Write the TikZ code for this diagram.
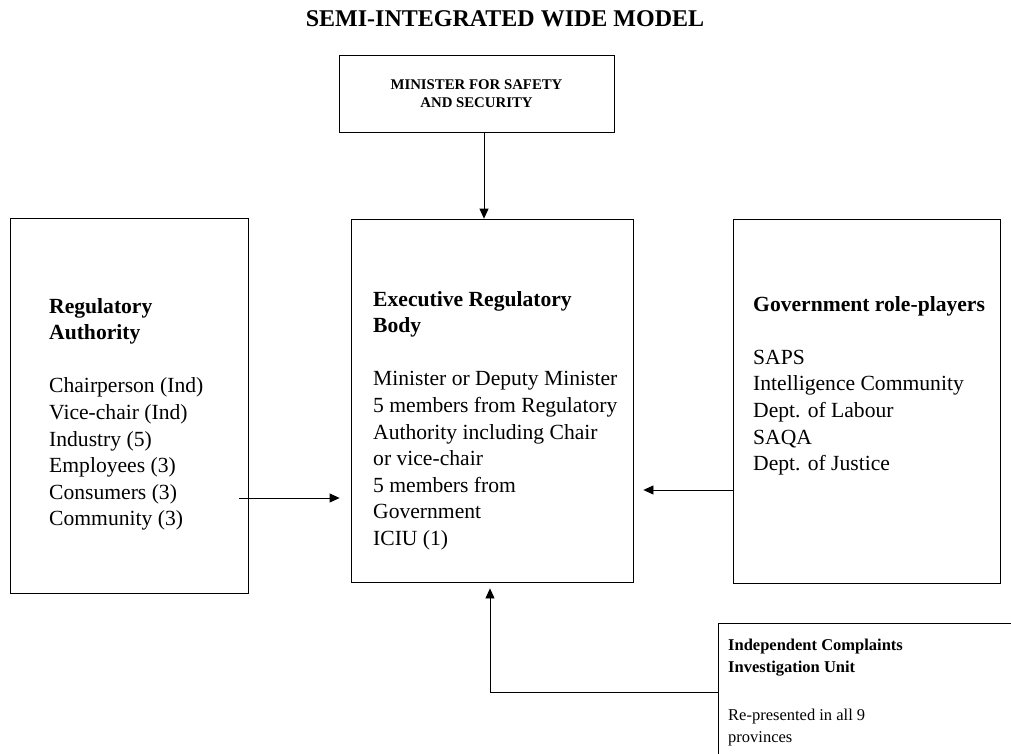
\documentclass[tikz,border=0pt]{standalone}
\usepackage{fontspec}
\setmainfont{Liberation Serif}
\usetikzlibrary{arrows.meta}
\begin{document}
\begin{tikzpicture}[x=1pt,y=-1pt,
  box/.style={draw=black, line width=0.8pt, inner sep=0pt},
  edge/.style={draw=black, line width=0.8pt},
  arr/.style={draw=black, line width=0.8pt, -{Triangle[length=10pt,width=9pt]}},
  body/.style={anchor=north west, align=left, inner sep=0pt, font=\fontsize{21.6}{26.6}\selectfont},
  small/.style={anchor=north west, align=left, inner sep=0pt, font=\fontsize{16.5}{22}\selectfont},
]
\useasboundingbox (0,0) rectangle (1011,754);
\fill[white] (0,0) rectangle (1011,754);

\node[inner sep=0pt, font=\fontsize{24}{28}\selectfont\bfseries] (title) at (505,19) {SEMI-INTEGRATED WIDE MODEL};

\node[box, minimum width=275pt, minimum height=77pt, align=center,
      font=\fontsize{14.8}{18}\selectfont\bfseries] (MIN) at (476.5,93.5)
      {MINISTER FOR SAFETY\\AND SECURITY};

\node[box, minimum width=238pt, minimum height=375pt] (RA) at (129,405.5) {};
\node[box, minimum width=282pt, minimum height=363pt] (ERB) at (492,400.5) {};
\node[box, minimum width=267pt, minimum height=364pt] (GOV) at (866.5,401) {};
\node[inner sep=0pt, minimum width=293pt, minimum height=131pt, anchor=north west] (ICIU) at (718,623) {};
\draw[edge] (ICIU.north east) -- (ICIU.north west) -- (ICIU.south west);

\node[body] (RAtext) at (49,298) {\textbf{Regulatory}\\ \textbf{Authority}\\[26.6pt]
  Chairperson (Ind)\\ Vice-chair (Ind)\\ Industry (5)\\ Employees (3)\\ Consumers (3)\\ Community (3)};

\node[body] (ERBtext) at (373,291) {\textbf{Executive Regulatory}\\ \textbf{Body}\\[26.6pt]
  Minister or Deputy Minister\\ 5 members from Regulatory\\ Authority including Chair\\
  or vice-chair\\ 5 members from\\ Government\\ ICIU (1)};

\node[body] (GOVtext) at (753,296) {\textbf{Government role-players}\\[26.6pt]
  SAPS\\ Intelligence Community\\ Dept. of Labour\\ SAQA\\ Dept. of Justice};

\node[small] (ICIUtext) at (728,639) {\textbf{Independent Complaints}\\ \textbf{Investigation Unit}\\[26pt]
  Re-presented in all 9\\ provinces};

\coordinate (tA) at (484,0);
\coordinate (lA) at (239,498);
\coordinate (rA) at (0,490);
\coordinate (bA) at (490,692);

\draw[arr] (MIN.south -| tA) -- (ERB.north -| tA);
\draw[arr, shorten >=11pt] (lA) -- (ERB.west |- lA);
\draw[arr, shorten >=10pt] (GOV.west |- rA) -- (ERB.east |- rA);
\draw[arr, shorten >=6pt] (ICIU.west |- bA) -| (ERB.south -| bA);
\end{tikzpicture}
\end{document}
